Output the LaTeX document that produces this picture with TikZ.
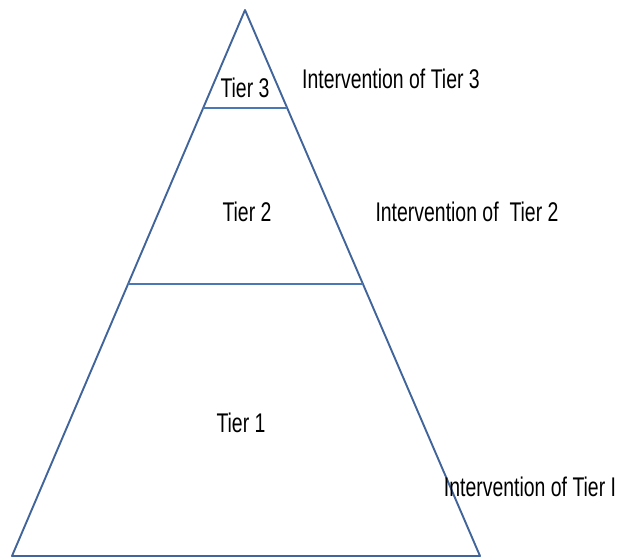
\documentclass[tikz,border=0pt]{standalone}
\usepackage{fontspec}
\setmainfont{Liberation Sans}[FakeStretch=0.72]
\usetikzlibrary{calc}
\definecolor{bleu}{HTML}{41649A}
\definecolor{bleuclair}{HTML}{4A78B4}

\begin{document}
\begin{tikzpicture}[x=1pt,y=1pt,
  edge/.style={draw=bleu,line width=1.9pt,line join=round},
  divider/.style={draw=bleuclair,line width=2.6pt},
  tier/.style={font=\fontsize{27}{27}\selectfont,inner sep=0pt},
  interv/.style={font=\fontsize{27}{27}\selectfont,inner sep=0pt}]
  \useasboundingbox (0,0) rectangle (617,559);
  % Pyramide
  \coordinate (apex) at (245,549);
  \coordinate (bl) at (12,3);
  \coordinate (br) at (480,3);
  \draw[edge] (apex) -- (bl) -- (br) -- cycle;
  % Separations
  \coordinate (t3l) at ($(apex)!0.1795!(bl)$);
  \coordinate (t3r) at ($(apex)!0.1795!(br)$);
  \coordinate (t2l) at ($(apex)!0.502!(bl)$);
  \coordinate (t2r) at ($(apex)!0.502!(br)$);
  \draw[divider] (t3l) -- (t3r);
  \draw[divider] (t2l) -- (t2r);
  % Niveaux
  \node[tier] (tier3) at (245,471) {Tier 3};
  \node[tier] (tier2) at (247,347) {Tier 2};
  \node[tier] (tier1) at (241,136) {Tier 1};
  % Interventions
  \node[interv] (int3) at (391,480) {Intervention of Tier 3};
  \node[interv] (int2) at (467,347) {Intervention of \ Tier 2};
  \node[interv] (int1) at (530,72) {Intervention of Tier I};
\end{tikzpicture}
\end{document}
